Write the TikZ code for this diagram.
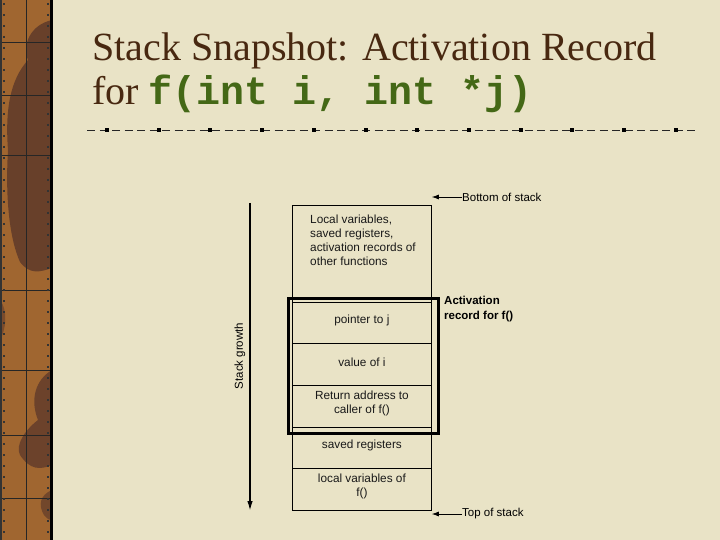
\documentclass[tikz,border=0pt]{standalone}
\usepackage{fontspec}
\setmainfont{Liberation Serif}
\setsansfont{Liberation Sans}
\setmonofont{Liberation Mono}
\usetikzlibrary{arrows.meta}
\definecolor{paper}{RGB}{233,227,198}
\definecolor{ochre}{RGB}{160,102,48}
\definecolor{umber}{RGB}{95,58,42}
\definecolor{titlebrown}{RGB}{72,40,16}
\definecolor{codegreen}{RGB}{68,104,22}
\tikzset{
  cellbox/.style={draw=black, line width=0.8pt, minimum width=139pt, inner sep=0pt, anchor=north west},
  celltext/.style={font=\sffamily\fontsize{11.8}{14}\selectfont, align=center, inner sep=0pt, text=black!90},
  lbl/.style={font=\sffamily\fontsize{11.5}{14}\selectfont, inner sep=0pt, anchor=west},
  ptr/.style={line width=0.8pt, -{Latex[length=7pt,width=5pt]}},
  gridln/.style={draw=black!85, line width=0.9pt}
}
\begin{document}
\begin{tikzpicture}[x=1pt,y=-1pt]
\useasboundingbox (0,0) rectangle (720,540);
\fill[paper] (0,0) rectangle (720,540);
% sidebar
\fill[ochre] (0,0) rectangle (52,540);
\fill[umber, opacity=0.85] (52,20) .. controls (30,25) and (22,45) .. (28,60) .. controls (10,80) and (5,110) .. (8,150) .. controls (5,200) and (10,240) .. (20,262) .. controls (30,275) and (40,272) .. (52,268) -- cycle;
\fill[umber, opacity=0.8] (52,370) .. controls (35,380) and (30,400) .. (38,420) .. controls (25,430) and (15,445) .. (20,455) .. controls (30,470) and (40,470) .. (52,465) -- cycle;
\fill[umber, opacity=0.7] (52,490) .. controls (40,495) and (38,505) .. (44,515) .. controls (48,520) and (50,520) .. (52,520) -- cycle;
\fill[umber, opacity=0.6] (0,300) .. controls (8,310) and (6,330) .. (0,340) -- cycle;
\draw[gridln] (26,0) -- (26,540);
\foreach \yy in {42,95,155,290,370,435,498} \draw[gridln] (0,\yy) -- (52,\yy);
\draw[black, line width=3pt] (51,0) -- (51,540);
\draw[black!80, line width=2pt] (1,0) -- (1,540);
\draw[black!80, line width=2pt, dash pattern=on 2pt off 9pt] (4,3) -- (4,540);
\draw[black!80, line width=2pt, dash pattern=on 2pt off 9pt] (48,3) -- (48,540);
% title
\node[anchor=base west, inner sep=0pt, text=titlebrown, font=\fontsize{40}{48}\selectfont] (t1) at (92,61) {Stack Snapshot: Activation Record};
\node[anchor=base west, inner sep=0pt, text=titlebrown, font=\fontsize{40}{48}\selectfont] (t2) at (92,105) {for \textcolor{codegreen}{\ttfamily\bfseries f(int i, int *j)}};
% dashed rule
\draw[black!85, line width=0.9pt, dash pattern=on 8pt off 4.5pt] (87,130) -- (697,130);
\foreach \k in {0,...,11} \fill[black] ({107+51.7*\k-2},128) rectangle ({107+51.7*\k+2},132);
% stack cells
\node[cellbox, minimum height=97pt] (c0) at (292,205) {};
\node[celltext, align=left, anchor=north west, font=\sffamily\fontsize{11.8}{14.2}\selectfont] (c0t) at (310,214.5) {Local variables,\\saved registers,\\activation records of\\other functions};
\node[cellbox, minimum height=41pt] (c1) at (292,302) {};
\node[cellbox, minimum height=42pt] (c2) at (292,343) {};
\node[cellbox, minimum height=42pt] (c3) at (292,385) {};
\node[cellbox, minimum height=41pt] (c4) at (292,427) {};
\node[cellbox, minimum height=42pt] (c5) at (292,468) {};
\node[celltext] (c1t) at ([yshift=2.5pt]c1.center) {pointer to j};
\node[celltext] (c2t) at ([yshift=2.5pt]c2.center) {value of i};
\node[celltext] (c3t) at ([yshift=2.5pt]c3.center) {Return address to\\caller of f()};
\node[celltext] (c4t) at ([yshift=2.5pt]c4.center) {saved registers};
\node[celltext] (c5t) at ([yshift=2.5pt]c5.center) {local variables of\\f()};
% activation record frame
\node[draw=black, line width=3pt, minimum width=150pt, minimum height=135pt, anchor=north west, inner sep=0pt] (ar) at (287,297) {};
\node[anchor=north west, inner sep=0pt, align=left, font=\sffamily\bfseries\fontsize{11.5}{15}\selectfont] (arl) at (444,296) {Activation\\record for f()};
% stack growth
\coordinate (g1) at (250,203);
\coordinate (g2) at (250,511);
\draw[line width=1.6pt, -{Latex[length=10pt,width=5.5pt]}] (g1) -- (g2);
\node[rotate=90, font=\sffamily\fontsize{11.5}{13}\selectfont, inner sep=0pt] (gl) at (240,356) {Stack growth};
% bottom / top labels
\node[lbl] (bos) at (462,197) {Bottom of stack};
\node[lbl] (tos) at (462,514) {Top of stack};
\draw[ptr] (bos.west) -- (c0.north east |- bos.west);
\draw[ptr] (tos.west) -- (c5.south east |- tos.west);
\end{tikzpicture}
\end{document}
